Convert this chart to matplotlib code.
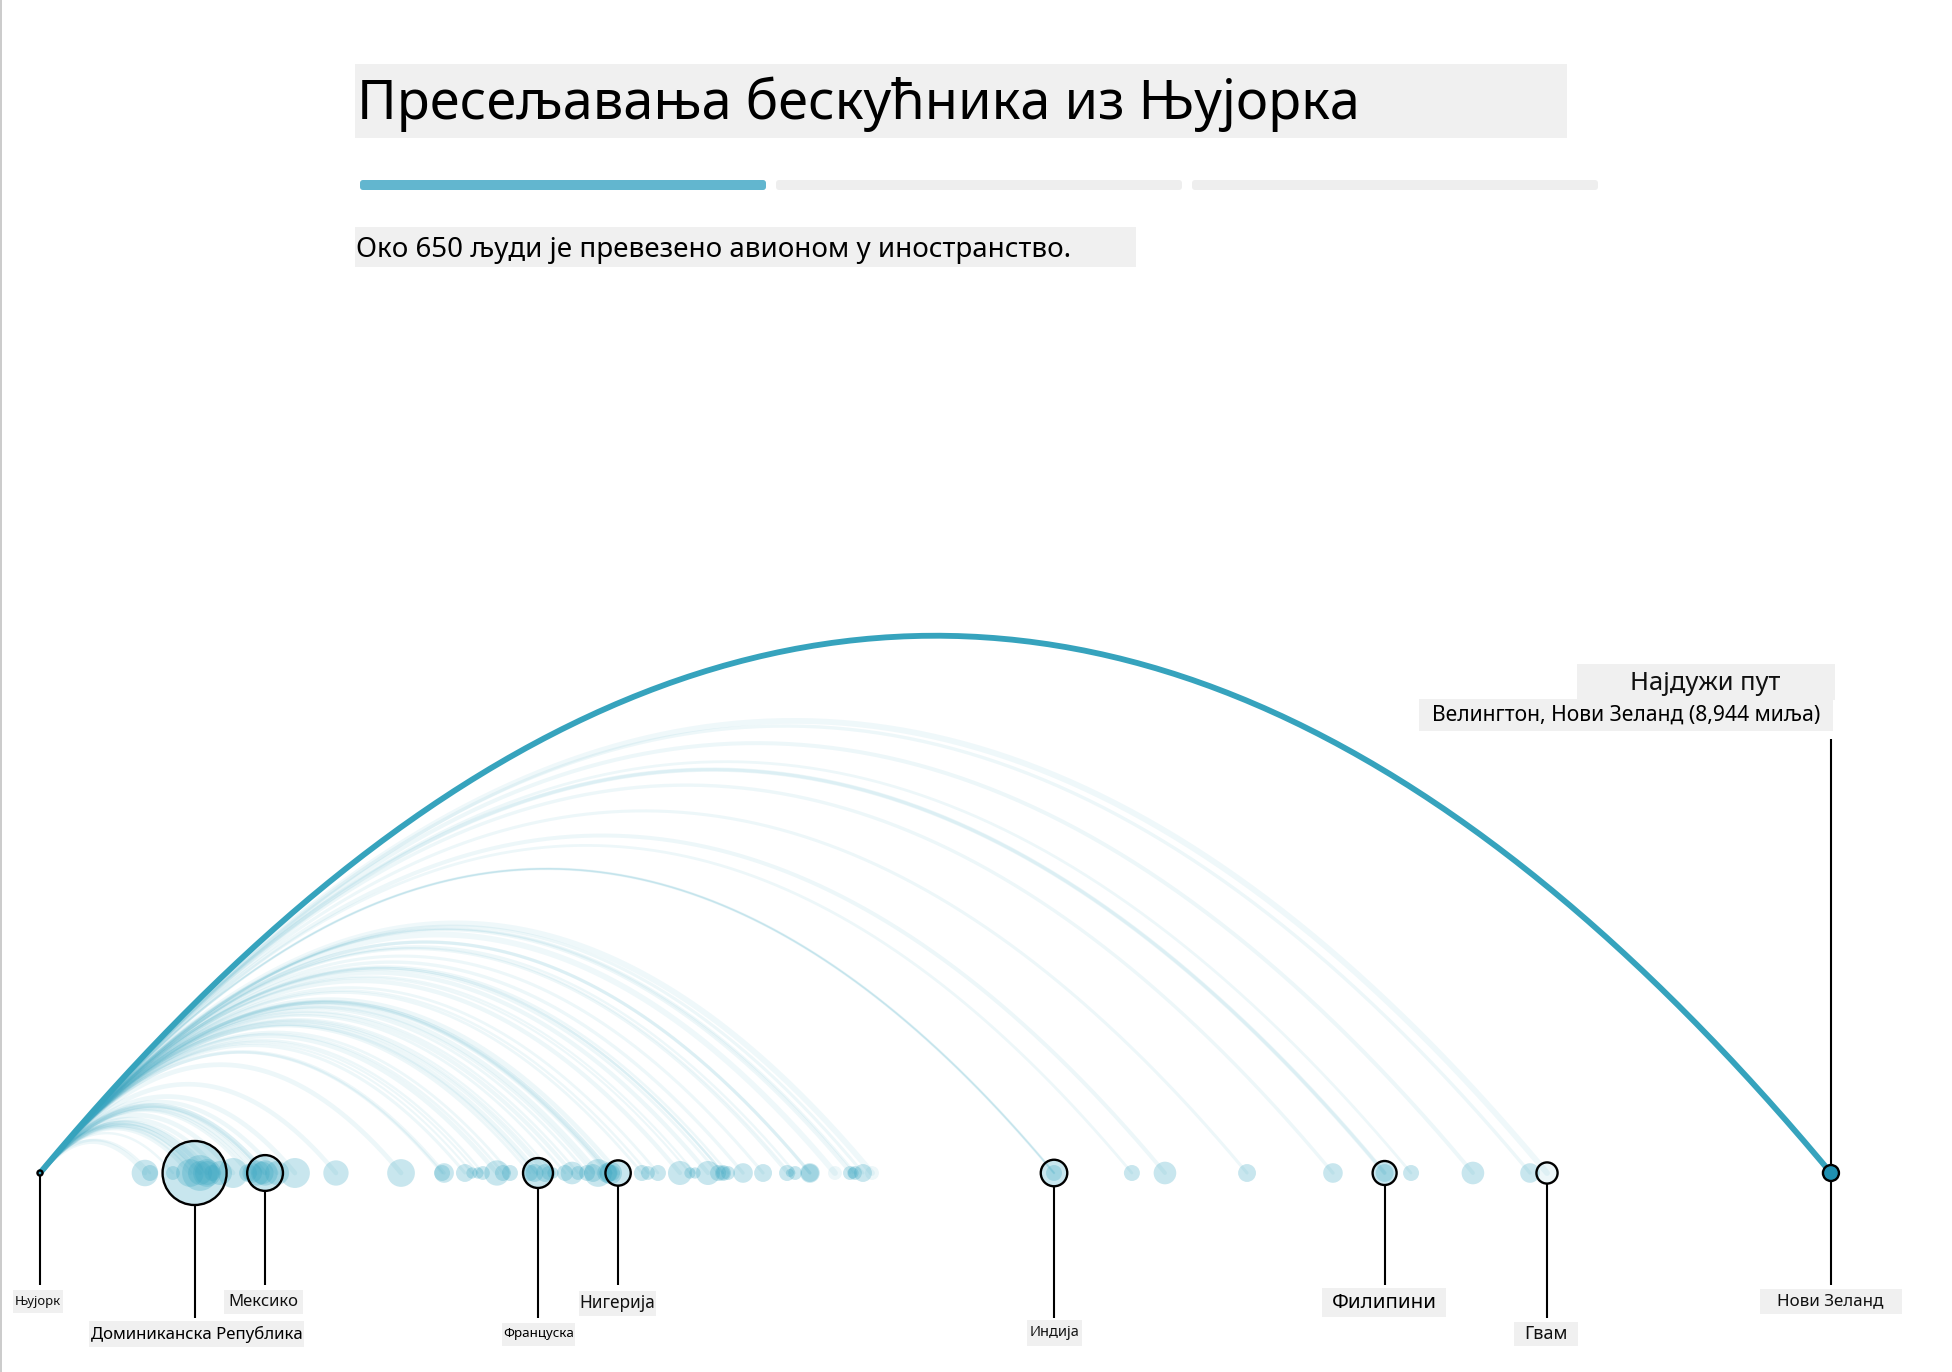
import numpy as np
import matplotlib
matplotlib.use('Agg')
import matplotlib.pyplot as plt
from matplotlib.patches import Circle, Rectangle, FancyBboxPatch

plt.rcParams['font.family'] = ['Noto Sans', 'DejaVu Sans']

# distance from New York in miles, people per destination
miles = [524, 549, 664, 749, 772, 799, 799, 834, 834, 860, 899, 964, 1039, 1060, 1084, 1110, 1124, 1124, 1184, 1273,
         1478, 1803, 2008, 2018, 2122, 2157, 2187, 2212, 2282, 2312, 2347, 2447,
         2470, 2487, 2522, 2540, 2562, 2622, 2657, 2687, 2732, 2762, 2787, 2832, 2840, 2850, 2857, 2887,
         3006, 3036, 3086, 3196, 3246, 3271, 3336, 3386, 3411, 3411, 3436, 3511, 3611,
         3731, 3745, 3771, 3845, 3845, 3970, 4045, 4060, 4070, 4110, 4155, 5064, 5064, 5453,
         5618, 6028, 6457, 6715, 6715, 6847, 7156, 7441, 7526]
people = [11, 4, 3, 12, 64, 20, 9, 12, 9, 4, 9, 14, 5, 6, 10, 8, 20, 10, 9, 14,
          10, 12, 4, 6, 5, 2, 2, 3, 10, 4, 4, 4,
          5, 14, 5, 3, 2, 4, 8, 3, 4, 5, 12, 6, 5, 8, 4, 10,
          4, 3, 4, 9, 2, 2, 9, 4, 4, 3, 3, 6, 5,
          4, 1, 3, 6, 5, 3, 3, 2, 3, 5, 3, 11, 4, 4,
          8, 5, 6, 9, 5, 4, 8, 6, 7]
faint = [3970, 4155, 7526]

longest_miles = 8944
longest_people = 4

labels = ['Њујорк', 'Доминиканска Република', 'Мексико', 'Француска', 'Нигерија',
          'Индија', 'Филипини', 'Гвам', 'Нови Зеланд']
label_miles = [0, 772, 1124, 2487, 2887, 5064, 6715, 7526, 8944]
label_people = [0.4, 64, 20, 14, 10, 11, 9, 7, 4]

title = 'Пресељавања бескућника из Њујорка'
subtitle = 'Око 650 људи је превезено авионом у иностранство.'
note_head = 'Најдужи пут'
note_text = 'Велингтон, Нови Зеланд (8,944 миља)'

W, H = 1952, 1372
MPP = 4.994        # miles per pixel
X0, Y0 = 40, 1173  # New York on the page
TEAL = '#3ba7c2'
BOX = '#f0f0f0'


def radius(n):
    return 4 * np.sqrt(n) * MPP


def py(p):
    return (Y0 - p) * MPP


def arc(ax, dist, **kw):
    x = np.linspace(0, dist, 200)
    y = 1.2 * x * (1 - x / dist)
    ax.plot(x, y, solid_capstyle='round', **kw)


def box_label(page, text, x0, x1, y0, y1, size, cx=None, cy=None, color='#111111'):
    page.add_patch(Rectangle((x0, y0), x1 - x0, y1 - y0, fc=BOX, ec='none', zorder=1))
    page.text((x0 + x1) / 2 if cx is None else cx, (y0 + y1) / 2 if cy is None else cy,
              text, fontsize=size, ha='center', va='center', color=color, zorder=2)


fig = plt.figure(figsize=(W / 100, H / 100), dpi=100, facecolor='white')

ax = fig.add_axes([0, 0, 1, 1])
ax.set_xlim(-X0 * MPP, (W - X0) * MPP)
ax.set_ylim((Y0 - H) * MPP, Y0 * MPP)
ax.axis('off')

page = fig.add_axes([0, 0, 1, 1])
page.set_xlim(0, W)
page.set_ylim(H, 0)
page.axis('off')
page.patch.set_alpha(0)

# grey edge on the left of the page
page.add_patch(Rectangle((0, 0), 2, H, fc='#cccccc', ec='none'))

# arcs
for d, n in zip(miles, people):
    if d in faint:
        arc(ax, d, color=TEAL, lw=4.2, alpha=0.08, zorder=2)
    elif d == 5064 and n > 5:
        arc(ax, d, color=TEAL, lw=1.2, alpha=0.22, zorder=2)
    else:
        arc(ax, d, color=TEAL, lw=min(1.1 + n * 0.22, 3.4), alpha=0.09, zorder=2)
arc(ax, longest_miles, color='#36a3bd', lw=4.2, alpha=1, zorder=4)

# destinations
for d, n in zip(miles, people):
    a = 0.09 if d in faint else 0.28
    ax.add_patch(Circle((d, 0), radius(n), fc=TEAL, ec='none', alpha=a, zorder=3))
ax.add_patch(Circle((longest_miles, 0), radius(longest_people), fc='#1f8fb0', ec='none', zorder=5))

# outlines and leaders
drops = [1285, 1318, 1285, 1318, 1285, 1318, 1285, 1318, 1285]
for d, n, drop in zip(label_miles, label_people, drops):
    r = radius(n)
    ax.add_patch(Circle((d, 0), r, fc='none', ec='black', lw=1.7, zorder=6))
    ax.plot([d, d], [-r, py(drop)], color='black', lw=1.5, zorder=6, solid_capstyle='butt')
ax.plot([longest_miles, longest_miles], [radius(longest_people), py(739)],
        color='black', lw=1.5, zorder=6, solid_capstyle='butt')

# header
box_label(page, title, 355, 1567, 64, 138, 39, cx=858, cy=104, color='black')
bars = [(360, '#62b6cf'), (776, '#eeeeee'), (1192, '#eeeeee')]
for x, c in bars:
    page.add_patch(FancyBboxPatch((x + 3, 183), 400, 4, boxstyle='round,pad=3', fc=c, ec='none'))
box_label(page, subtitle, 355, 1136, 227, 267, 20, cx=714, cy=250, color='black')

# long arc note
box_label(page, note_head, 1577, 1835, 664, 700, 18.4, cx=1705, cy=684)
box_label(page, note_text, 1419, 1833, 699, 731, 15.2, cx=1626, cy=715, color='black')

# bottom labels
box_label(page, labels[0], 13, 63, 1290, 1313, 9.4, cy=1301)
box_label(page, labels[1], 89, 304, 1321, 1347, 12.1, cy=1334, color='black')
box_label(page, labels[2], 224, 303, 1290, 1314, 12, cx=263, cy=1302)
box_label(page, labels[3], 502, 575, 1323, 1346, 9.6, cy=1334, color='black')
box_label(page, labels[4], 579, 656, 1291, 1316, 12.4, cx=617, cy=1303)
box_label(page, labels[5], 1027, 1082, 1320, 1346, 10.5, cy=1333)
box_label(page, labels[6], 1322, 1446, 1288, 1317, 14.8, cx=1384, cy=1303, color='black')
box_label(page, labels[7], 1514, 1578, 1322, 1346, 13, cx=1546, cy=1334)
box_label(page, labels[8], 1760, 1902, 1289, 1314, 12.2, cx=1830, cy=1301)

fig.savefig('out.png', dpi=100)
plt.close(fig)
